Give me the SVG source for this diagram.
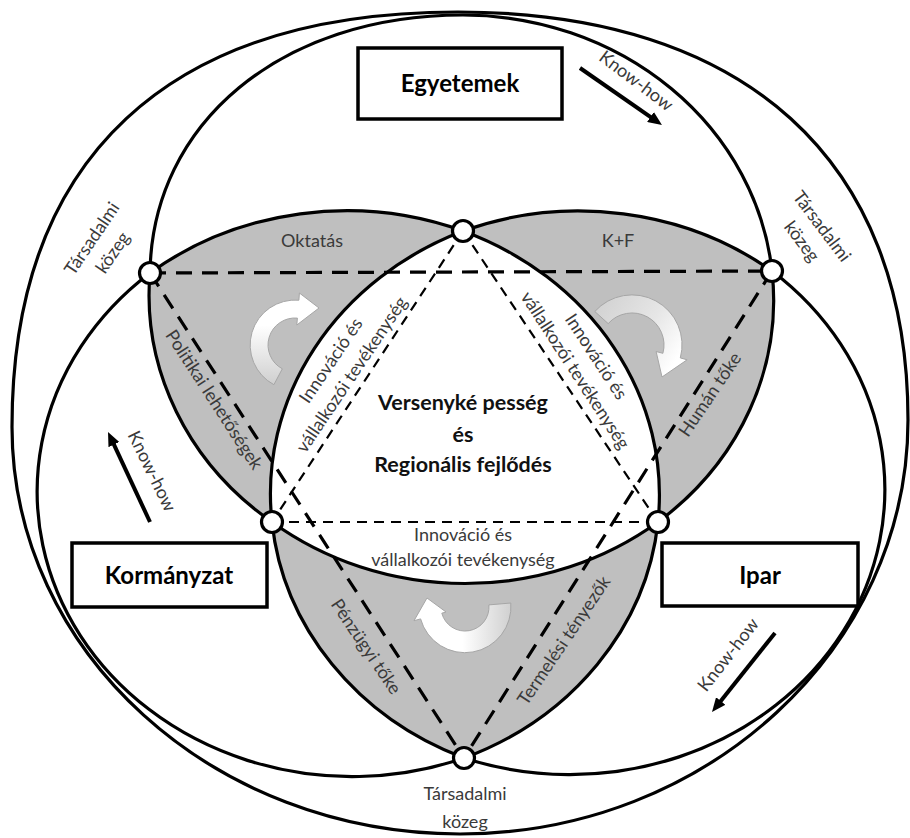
<svg xmlns="http://www.w3.org/2000/svg" width="910" height="838" viewBox="0 0 910 838">
  <defs>
    <style>
      .ring{fill:none;stroke:#000;stroke-width:3.2;stroke-linejoin:round}
      .lens{fill:#bfbfbf;stroke:none}
      .dash-l{fill:none;stroke:#000;stroke-width:3.2;stroke-dasharray:16 10}
      .dash-s{fill:none;stroke:#000;stroke-width:2.2;stroke-dasharray:10 7}
      .junction{fill:#fff;stroke:#000;stroke-width:3.2}
      .box{fill:#fff;stroke:#000;stroke-width:3.5}
      .actor{font-family:Lato,"Liberation Sans",sans-serif;font-weight:700;font-size:24px;fill:#000;text-anchor:middle}
      .lbl{font-family:Lato,"Liberation Sans",sans-serif;font-size:18px;fill:#3a3a3a;text-anchor:middle}
      .core{font-family:Lato,"Liberation Sans",sans-serif;font-weight:700;font-size:21.5px;fill:#111;text-anchor:middle}
      .flow{fill:none;stroke:#000;stroke-width:4;marker-end:url(#head)}
      .swirl{stroke:#a6a6a6;stroke-width:1}
    </style>
    <marker id="head" markerUnits="userSpaceOnUse" markerWidth="14" markerHeight="12" refX="6" refY="6" orient="auto">
      <path d="M0,0 L14,6 L0,12 Z" fill="#000"/>
    </marker>
    <linearGradient id="swirlL" x1="0" y1="0" x2="0" y2="1">
      <stop offset="0" stop-color="#ffffff"/>
      <stop offset="0.35" stop-color="#ffffff"/>
      <stop offset="1" stop-color="#cfcfcf"/>
    </linearGradient>
    <linearGradient id="swirlR" x1="0" y1="0" x2="1" y2="0.6">
      <stop offset="0" stop-color="#cfcfcf"/>
      <stop offset="0.6" stop-color="#e6e6e6"/>
      <stop offset="1" stop-color="#ffffff"/>
    </linearGradient>
    <linearGradient id="swirlB" x1="0" y1="0" x2="1" y2="0">
      <stop offset="0" stop-color="#ffffff"/>
      <stop offset="0.5" stop-color="#ffffff"/>
      <stop offset="1" stop-color="#d0d0d0"/>
    </linearGradient>
  </defs>

  <rect x="0" y="0" width="910" height="838" fill="#fff"/>

  <!-- pairwise overlaps of the three spheres -->
  <g id="overlaps">
    <path id="lens-oktatas" class="lens" d="M150,273 A315,285 0 0 1 463,231 A315,285 0 0 0 272,522 A311,285 0 0 1 150,273 Z"/>
    <path id="lens-kf" class="lens" d="M463,231 A315,285 0 0 1 772,271 A311,285 0 0 1 658,522 A315,285 0 0 0 463,231 Z"/>
    <path id="lens-bottom" class="lens" d="M272,522 A311,285 0 0 0 658,522 A315,285 0 0 1 464,758 A315,285 0 0 1 272,522 Z"/>
  </g>

  <!-- dashed triangles -->
  <g id="triangles">
    <path class="dash-l" d="M150,273 L772,271"/>
    <path class="dash-l" d="M150,273 L464,758"/>
    <path class="dash-l" d="M772,271 L464,758"/>
    <path class="dash-s" d="M463,231 L272,522"/>
    <path class="dash-s" d="M463,231 L658,522"/>
    <path class="dash-s" d="M272,522 L658,522"/>
  </g>

  <!-- circulation arrows inside the overlaps -->
  <g id="swirls">
    <path class="swirl" fill="url(#swirlL)" d="M273.9,384.7 A45,45 0 0 1 298.9,300.2 L299.4,293 L319,308 L296.8,325 L297.4,318.1 A27,27 0 0 0 282.3,368.8 Z"/>
    <path class="swirl" fill="url(#swirlR)" d="M594.8,311.5 A50,50 0 0 1 680.3,357.9 L687.1,359.8 L662,377 L656.1,351.5 L662.9,353.3 A32,32 0 0 0 608.2,323.6 Z"/>
    <path class="swirl" fill="url(#swirlB)" d="M510.8,603 A46,46 0 0 1 420.6,618.9 L414,620.7 L427,598 L446,612 L441.8,613.2 A24,24 0 0 0 488.9,604.9 Z"/>
  </g>

  <!-- outer environment and the three spheres -->
  <g id="spheres">
    <path id="environment" class="ring" d="M12,427 C12,158 168,12 458,12 C745,12 908,160 908,420 C908,648 707,834 460,834 C213,834 12,652 12,427 Z"/>
    <path id="sphere-egyetemek" class="ring" d="M150,273 C152,123 281,15 463,15 A311,285 0 0 1 772,271 A311,285 0 0 1 658,522 A311,285 0 0 1 272,522 A311,285 0 0 1 150,273 Z"/>
    <path id="sphere-kormanyzat" class="ring" d="M150,273 A315,285 0 0 1 463,231 A315,285 0 0 1 658,522 A315,285 0 0 1 464,758 A315,285 0 0 1 150,273 Z"/>
    <path id="sphere-ipar" class="ring" d="M772,271 A315,285 0 0 0 463,231 A315,285 0 0 0 272,522 A315,285 0 0 0 464,758 A315,285 0 0 0 772,271 Z"/>
  </g>

  <!-- know-how flows -->
  <g id="connectors">
    <path class="flow" d="M580,68 L655.4,120.4"/>
    <path class="flow" d="M150,522 L111.4,439.2"/>
    <path class="flow" d="M775,633 L717,705.7"/>
  </g>

  <!-- junction points -->
  <g id="junctions">
    <circle id="j-top" class="junction" cx="463" cy="231" r="10.5"/>
    <circle id="j-upper-left" class="junction" cx="150" cy="273" r="10.5"/>
    <circle id="j-upper-right" class="junction" cx="772" cy="271" r="10.5"/>
    <circle id="j-mid-left" class="junction" cx="272" cy="522" r="10.5"/>
    <circle id="j-mid-right" class="junction" cx="658" cy="522" r="10.5"/>
    <circle id="j-bottom" class="junction" cx="464" cy="758" r="10.5"/>
  </g>

  <!-- actors -->
  <g id="egyetemek">
    <rect class="box" x="358" y="48" width="204" height="71"/>
    <text class="actor" x="460" y="92">Egyetemek</text>
  </g>
  <g id="kormanyzat">
    <rect class="box" x="72" y="543" width="195" height="64"/>
    <text class="actor" x="169" y="584">Kormányzat</text>
  </g>
  <g id="ipar">
    <rect class="box" x="662" y="543" width="196" height="63"/>
    <text class="actor" x="760" y="584">Ipar</text>
  </g>

  <!-- labels -->
  <g id="labels">
    <text class="lbl" x="312" y="247">Oktatás</text>
    <text class="lbl" x="618" y="247">K+F</text>
    <text class="lbl" transform="translate(209,403) rotate(57)">Politikai lehetőségek</text>
    <text class="lbl" transform="translate(715,398) rotate(-56)">Humán tőke</text>
    <text class="lbl" transform="translate(361,650) rotate(56)">Pénzügyi tőke</text>
    <text class="lbl" transform="translate(569,644) rotate(-56)">Termelési tényezők</text>

    <text class="lbl" transform="translate(336,364) rotate(-56)"><tspan x="0" y="0">Innováció és</tspan><tspan x="0" y="25">vállalkozói tevékenység</tspan></text>
    <text class="lbl" transform="translate(591,360) rotate(57)"><tspan x="0" y="0">Innováció és</tspan><tspan x="0" y="25">vállalkozói tevékenység</tspan></text>
    <text class="lbl"><tspan x="463" y="541">Innováció és</tspan><tspan x="463" y="566">vállalkozói tevékenység</tspan></text>

    <text class="lbl" transform="translate(97,242) rotate(-56)"><tspan x="0" y="0">Társadalmi</tspan><tspan x="0" y="25">közeg</tspan></text>
    <text class="lbl" transform="translate(817,230) rotate(53)"><tspan x="0" y="0">Társadalmi</tspan><tspan x="0" y="25">közeg</tspan></text>
    <text class="lbl"><tspan x="465" y="800">Társadalmi</tspan><tspan x="465" y="828">közeg</tspan></text>

    <text class="lbl" transform="translate(632.5,85.7) rotate(37)">Know-how</text>
    <text class="lbl" transform="translate(146.4,473.8) rotate(64)">Know-how</text>
    <text class="lbl" transform="translate(733,658.5) rotate(-52)">Know-how</text>

    <text class="core"><tspan x="463" y="410">Versenyké pesség</tspan><tspan x="463" y="442">és</tspan><tspan x="463" y="472">Regionális fejlődés</tspan></text>
  </g>
</svg>
